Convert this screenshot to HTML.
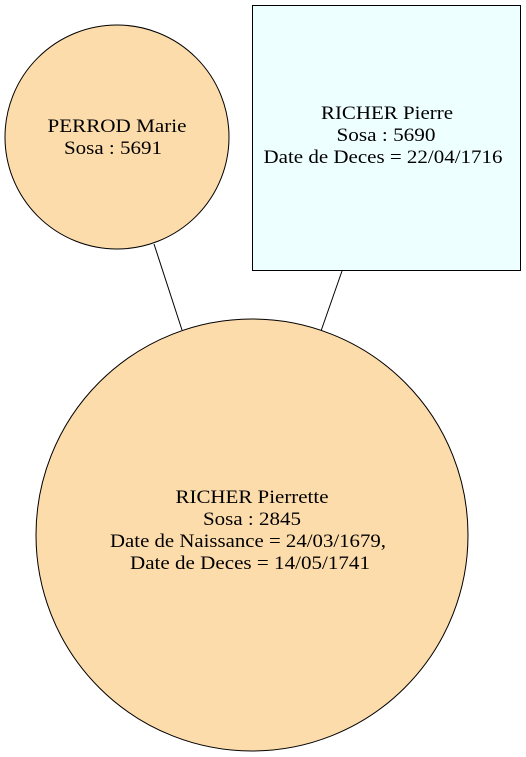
<!DOCTYPE html>
<html><head><style>body{margin:0;background:#fff}svg{display:block}</style></head><body>
<svg width="526" height="757" xmlns="http://www.w3.org/2000/svg" font-family="Liberation Serif, serif" font-size="19" text-anchor="middle">
<line x1="154" y1="244" x2="182" y2="330" stroke="#000"/>
<line x1="342" y1="271" x2="321" y2="331" stroke="#000"/>
<circle cx="117" cy="137" r="112" fill="#fddcac" stroke="#000"/>
<text x="117" y="132" textLength="139" lengthAdjust="spacingAndGlyphs">PERROD Marie</text>
<text x="113" y="154" textLength="98" lengthAdjust="spacingAndGlyphs">Sosa : 5691</text>
<rect x="252.5" y="5.5" width="268" height="265" fill="#eeffff" stroke="#000"/>
<text x="387" y="119" textLength="132" lengthAdjust="spacingAndGlyphs">RICHER Pierre</text>
<text x="386" y="141" textLength="99" lengthAdjust="spacingAndGlyphs">Sosa : 5690</text>
<text x="383" y="163" textLength="239" lengthAdjust="spacingAndGlyphs">Date de Deces = 22/04/1716</text>
<circle cx="252" cy="535" r="216" fill="#fddcac" stroke="#000"/>
<text x="252" y="503" textLength="153" lengthAdjust="spacingAndGlyphs">RICHER Pierrette</text>
<text x="252" y="525" textLength="98" lengthAdjust="spacingAndGlyphs">Sosa : 2845</text>
<text x="248" y="547" textLength="276" lengthAdjust="spacingAndGlyphs">Date de Naissance = 24/03/1679,</text>
<text x="250" y="569" textLength="240" lengthAdjust="spacingAndGlyphs">Date de Deces = 14/05/1741</text>
</svg>
</body></html>
